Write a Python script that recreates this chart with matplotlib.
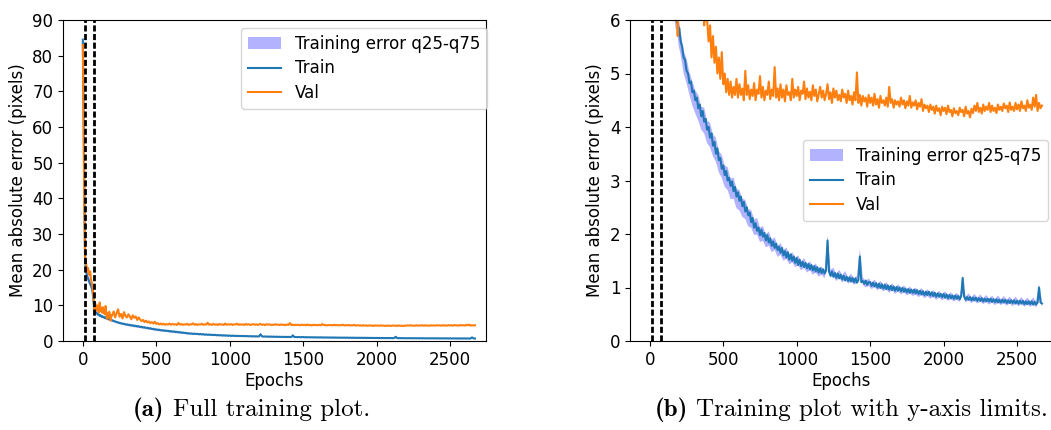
import numpy as np
import matplotlib
matplotlib.use("Agg")
import matplotlib.pyplot as plt

# ---------------- data ----------------
# fine grid for the Train / Val curves
epochs = np.concatenate([np.arange(0, 200, 5), np.arange(200, 2680, 10)])
# coarser grid for the q25-q75 band
band_epochs = np.concatenate([np.arange(0, 200, 5), np.arange(210, 2680, 20)])

train_early = [84.5, 63, 40, 23, 20, 19, 18, 17.5, 17, 16.5,
               16, 15.5, 15, 14, 12.5, 10, 8.5, 8.2, 8.0, 7.8,
               7.6, 7.4, 7.4, 7.1, 7.2, 6.9, 7.0, 6.7, 6.8, 6.6,
               6.65, 6.4, 6.5, 6.25, 6.3, 6.1, 6.15, 5.95, 6.0, 5.8]
train_main = [5.85, 5.6, 5.5, 5.3, 5.25, 5.05, 5.0, 4.82, 4.85, 4.65,
              4.68, 4.5, 4.55, 4.35, 4.42, 4.2, 4.3, 4.1, 4.15, 3.95,
              4.0, 3.8, 3.88, 3.65, 3.72, 3.5, 3.6, 3.38, 3.42, 3.22,
              3.28, 3.1, 3.18, 3.0, 3.05, 2.9, 2.98, 2.8, 2.88, 2.7,
              2.78, 2.62, 2.7, 2.52, 2.6, 2.42, 2.5, 2.35, 2.4, 2.22,
              2.3, 2.12, 2.2, 2.06, 2.12, 1.98, 2.08, 1.95, 2.02, 1.88,
              1.98, 1.84, 1.92, 1.78, 1.86, 1.74, 1.82, 1.7, 1.76, 1.65,
              1.74, 1.6, 1.68, 1.56, 1.66, 1.52, 1.62, 1.5, 1.58, 1.46,
              1.55, 1.42, 1.52, 1.4, 1.48, 1.38, 1.46, 1.36, 1.44, 1.34,
              1.42, 1.32, 1.4, 1.3, 1.38, 1.28, 1.36, 1.27, 1.34, 1.26,
              1.32, 1.88, 1.3, 1.22, 1.3, 1.2, 1.27, 1.18, 1.26, 1.17,
              1.24, 1.15, 1.22, 1.13, 1.2, 1.12, 1.19, 1.11, 1.18, 1.1,
              1.17, 1.09, 1.14, 1.58, 1.1, 1.12, 1.07, 1.13, 1.05, 1.1,
              1.1, 1.03, 1.09, 1.02, 1.08, 1.0, 1.07, 0.99, 1.06, 0.98,
              1.05, 0.97, 1.04, 0.96, 1.03, 0.95, 1.02, 0.94, 1.01, 0.94,
              1.0, 0.93, 0.99, 0.92, 0.98, 0.91, 0.97, 0.9, 0.96, 0.9,
              0.96, 0.89, 0.95, 0.88, 0.94, 0.87, 0.93, 0.86, 0.92, 0.86,
              0.92, 0.85, 0.91, 0.84, 0.9, 0.83, 0.89, 0.83, 0.88, 0.82,
              0.88, 0.81, 0.87, 0.8, 0.86, 0.8, 0.85, 0.79, 0.85, 0.79,
              0.84, 0.78, 0.84, 1.18, 0.83, 0.77, 0.82, 0.77, 0.82, 0.76,
              0.81, 0.76, 0.81, 0.75, 0.8, 0.75, 0.8, 0.74, 0.79, 0.74,
              0.79, 0.74, 0.79, 0.73, 0.78, 0.73, 0.78, 0.72, 0.77, 0.72,
              0.77, 0.72, 0.77, 0.71, 0.76, 0.71, 0.76, 0.71, 0.76, 0.7,
              0.75, 0.7, 0.75, 0.7, 0.75, 0.69, 0.74, 0.69, 0.74, 0.69,
              0.74, 0.68, 0.73, 0.68, 0.72, 1.0, 0.72, 0.7]

val_early = [83, 62, 38, 24, 22.5, 21, 19.5, 20.5, 19, 18.5,
             19.5, 17.5, 16.5, 15.5, 13.5, 11, 8.5, 10.5, 9.5, 8.5,
             10, 9, 8, 10.8, 8.5, 9.3, 8, 9.5, 7.8, 8.7,
             7.5, 9.8, 7.5, 6.2, 7.8, 6.6, 8.2, 6.9, 5.7, 7.2]
val_main = [7.2, 8.3, 6.6, 7.8, 8.9, 6.8, 7.6, 6.3, 8.1, 7.0,
            6.6, 7.5, 6.9, 6.1, 7.2, 6.5, 6.9, 5.9, 6.6, 6.0,
            5.6, 5.9, 5.3, 5.7, 5.2, 5.5, 5.0, 5.3, 4.9, 5.4,
            4.8, 5.0, 4.65, 4.9, 4.6, 4.85, 4.55, 4.75, 4.6, 4.9,
            4.55, 4.8, 4.6, 4.72, 4.5, 5.05, 4.6, 4.78, 4.52, 4.7,
            4.58, 4.82, 4.5, 4.7, 4.62, 4.95, 4.55, 4.75, 4.5, 4.68,
            4.6, 4.85, 4.52, 4.7, 4.58, 5.12, 4.55, 4.72, 4.5, 4.8,
            4.55, 4.7, 4.48, 4.78, 4.6, 4.65, 4.5, 4.9, 4.55, 4.7,
            4.58, 4.75, 4.5, 4.68, 4.62, 4.85, 4.52, 4.72, 4.55, 4.66,
            4.5, 4.78, 4.58, 4.7, 4.48, 4.62, 4.75, 4.55, 4.68, 4.5,
            4.62, 4.8, 4.52, 4.65, 4.45, 4.72, 4.55, 4.68, 4.5, 4.6,
            4.48, 4.7, 4.55, 4.62, 4.45, 4.68, 4.5, 4.58, 4.42, 4.65,
            4.5, 5.02, 4.45, 4.6, 4.4, 4.58, 4.48, 4.55, 4.38, 4.6,
            4.45, 4.55, 4.4, 4.62, 4.42, 4.52, 4.36, 4.58, 4.45, 4.5,
            4.4, 4.55, 4.38, 4.75, 4.45, 4.52, 4.36, 4.5, 4.42, 4.48,
            4.38, 4.55, 4.42, 4.5, 4.35, 4.48, 4.4, 4.58, 4.36, 4.46,
            4.4, 4.5, 4.33, 4.45, 4.38, 4.52, 4.3, 4.42, 4.35, 4.4,
            4.28, 4.42, 4.32, 4.38, 4.25, 4.4, 4.3, 4.35, 4.22, 4.38,
            4.3, 4.36, 4.24, 4.4, 4.28, 4.32, 4.2, 4.35, 4.26, 4.3,
            4.22, 4.36, 4.28, 4.32, 4.2, 4.38, 4.25, 4.3, 4.18, 4.34,
            4.26, 4.4, 4.3, 4.45, 4.28, 4.36, 4.25, 4.42, 4.3, 4.38,
            4.32, 4.45, 4.28, 4.4, 4.3, 4.36, 4.26, 4.42, 4.32, 4.38,
            4.3, 4.44, 4.35, 4.4, 4.28, 4.46, 4.32, 4.38, 4.3, 4.45,
            4.33, 4.42, 4.3, 4.48, 4.35, 4.4, 4.3, 4.5, 4.36, 4.42,
            4.32, 4.55, 4.38, 4.6, 4.3, 4.45, 4.35, 4.4]

q25_early = [83, 60, 37, 21.5, 18.8, 17.9, 17, 16.5, 16, 15.6,
             15.1, 14.6, 14.1, 13.1, 11.6, 9.3, 7.9, 7.6, 7.4, 7.2,
             7.2, 7.0, 7.0, 6.75, 6.85, 6.55, 6.65, 6.38, 6.48, 6.28,
             6.33, 6.1, 6.18, 5.95, 6.0, 5.82, 5.86, 5.67, 5.72, 5.53]
q25_main = [5.35, 5.00, 4.82, 4.60, 4.40, 4.25, 4.12, 3.95, 3.88, 3.70,
            3.62, 3.45, 3.35, 3.15, 3.05, 2.88, 2.82, 2.65, 2.66, 2.48,
            2.44, 2.32, 2.28, 2.14, 2.12, 1.98, 1.99, 1.85, 1.87, 1.75,
            1.78, 1.66, 1.70, 1.57, 1.61, 1.50, 1.54, 1.43, 1.47, 1.38,
            1.41, 1.32, 1.37, 1.28, 1.32, 1.24, 1.28, 1.20, 1.24, 1.17,
            1.60, 1.19, 1.21, 1.12, 1.18, 1.09, 1.16, 1.07, 1.12, 1.05,
            1.08, 1.35, 1.05, 1.00, 1.03, 0.97, 1.01, 0.95, 0.99, 0.93,
            0.96, 0.90, 0.95, 0.88, 0.93, 0.87, 0.91, 0.85, 0.89, 0.84,
            0.87, 0.82, 0.86, 0.80, 0.84, 0.79, 0.82, 0.77, 0.81, 0.76,
            0.80, 0.75, 0.78, 0.74, 0.77, 0.73, 0.90, 0.72, 0.76, 0.71,
            0.75, 0.70, 0.74, 0.69, 0.73, 0.68, 0.72, 0.67, 0.72, 0.67,
            0.71, 0.66, 0.70, 0.65, 0.70, 0.65, 0.69, 0.64, 0.68, 0.64,
            0.68, 0.63, 0.85, 0.64]

q75_early = [86, 66, 43, 24.5, 21.2, 20.1, 19, 18.5, 18, 17.4,
             16.9, 16.4, 15.9, 14.9, 13.4, 10.7, 9.1, 8.8, 8.6, 8.4,
             7.95, 7.75, 7.75, 7.45, 7.55, 7.22, 7.32, 7.0, 7.1, 6.9,
             6.95, 6.68, 6.78, 6.52, 6.58, 6.36, 6.42, 6.2, 6.26, 6.05]
q75_main = [5.78, 5.42, 5.28, 5.02, 4.85, 4.68, 4.60, 4.38, 4.36, 4.12,
            4.08, 3.86, 3.80, 3.55, 3.48, 3.28, 3.25, 3.03, 3.06, 2.85,
            2.82, 2.66, 2.64, 2.46, 2.45, 2.27, 2.30, 2.12, 2.15, 1.99,
            2.05, 1.89, 1.94, 1.78, 1.83, 1.70, 1.75, 1.61, 1.66, 1.56,
            1.60, 1.48, 1.55, 1.44, 1.49, 1.40, 1.45, 1.34, 1.39, 1.31,
            1.98, 1.33, 1.37, 1.26, 1.33, 1.23, 1.31, 1.19, 1.26, 1.17,
            1.22, 1.72, 1.19, 1.12, 1.17, 1.09, 1.15, 1.07, 1.12, 1.05,
            1.10, 1.02, 1.08, 1.00, 1.06, 0.99, 1.04, 0.96, 1.02, 0.95,
            1.00, 0.93, 0.99, 0.91, 0.97, 0.90, 0.95, 0.88, 0.94, 0.87,
            0.93, 0.86, 0.91, 0.85, 0.90, 0.84, 1.12, 0.83, 0.89, 0.82,
            0.88, 0.81, 0.87, 0.80, 0.86, 0.79, 0.85, 0.78, 0.85, 0.78,
            0.84, 0.77, 0.83, 0.76, 0.83, 0.76, 0.82, 0.75, 0.81, 0.75,
            0.81, 0.74, 1.06, 0.76]

train = np.array(train_early + train_main)
val = np.array(val_early + val_main)
q25 = np.array(q25_early + q25_main)
q75 = np.array(q75_early + q75_main)

phase_epochs = [15, 75]
xticks = [0, 500, 1000, 1500, 2000, 2500]
caption_tags = ['(a)', '(b)']
caption_texts = ['Full training plot.', 'Training plot with y-axis limits.']

# ---------------- figure ----------------
W, H = 1051, 430
fig = plt.figure(figsize=(W / 100, H / 100), dpi=100)
FS = 12

def ax_rect(x0, y0, x1, y1):
    return [x0 / W, 1 - y1 / H, (x1 - x0) / W, (y1 - y0) / H]

axL = fig.add_axes(ax_rect(63, 20, 486, 341))
axR = fig.add_axes(ax_rect(630, 20, 1053, 341))

for ax, ylim, yticks in [(axL, (0, 90), np.arange(0, 91, 10)),
                         (axR, (0, 6), np.arange(0, 7, 1))]:
    ax.fill_between(band_epochs, q25, q75, color='blue', alpha=0.3, lw=0,
                    label='Training error q25-q75')
    ax.plot(epochs, train, color='#1f77b4', lw=1.5, label='Train')
    ax.plot(epochs, val, color='#ff7f0e', lw=1.5, label='Val')
    for e in phase_epochs:
        ax.axvline(e, color='black', lw=2.0, dashes=(2.2, 0.9))
    ax.set_xlim(-135, 2745)
    ax.set_ylim(*ylim)
    ax.set_xticks(xticks)
    ax.set_yticks(yticks)
    ax.tick_params(labelsize=FS)
    ax.set_xlabel('Epochs', fontsize=FS, labelpad=2)
    ax.set_ylabel('Mean absolute error (pixels)', fontsize=FS)

axL.legend(loc='upper right', bbox_to_anchor=(1.002, 0.975),
           borderaxespad=0, fontsize=FS, labelspacing=0.4)
axR.legend(loc='upper left', bbox_to_anchor=(0.409, 0.626),
           borderaxespad=0, fontsize=FS, labelspacing=0.4)

# captions: bold tag + roman text in Computer Modern
CAP_FS = 18
renderer = fig.canvas.get_renderer()
for xc, tag, txt in [(251.5, caption_tags[0], caption_texts[0]),
                     (851.5, caption_tags[1], caption_texts[1])]:
    y = 1 - 410 / H
    t1 = fig.text(0, y, tag, fontfamily='cmb10', fontsize=CAP_FS, va='center')
    t2 = fig.text(0, y, txt, fontfamily='cmr10', fontsize=CAP_FS, va='center')
    w1 = t1.get_window_extent(renderer).width
    w2 = t2.get_window_extent(renderer).width
    gap = CAP_FS * 0.45
    x0 = xc - (w1 + gap + w2) / 2
    t1.set_x(x0 / W)
    t2.set_x((x0 + w1 + gap) / W)

fig.savefig('out.png', dpi=100)
